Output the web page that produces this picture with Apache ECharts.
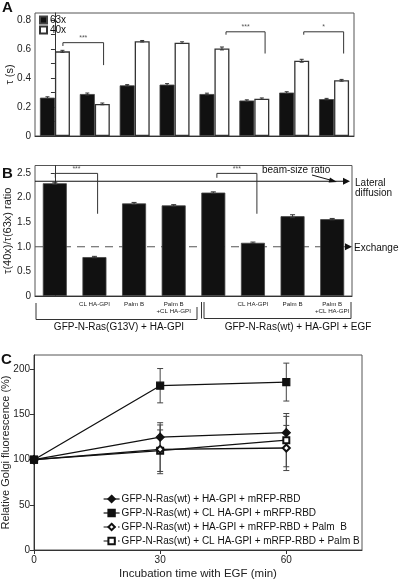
<!DOCTYPE html>
<html><head><meta charset="utf-8">
<script src="https://cdn.jsdelivr.net/npm/echarts@6/dist/echarts.min.js"></script>
<style>html,body{margin:0;padding:0;background:#fff}#c{width:400px;height:582px}</style>
</head><body><div id="c"></div>
<script>
// ---------- Panel A data ----------
const aCategories = ['1', '2', '3', '4', '5', '6', '7', '8'];
const a63x = [0.265, 0.29, 0.35, 0.355, 0.29, 0.245, 0.30, 0.255];
const a63xErr = [0.006, 0.007, 0.005, 0.007, 0.006, 0.005, 0.006, 0.005];
const a40x = [0.585, 0.222, 0.655, 0.645, 0.605, 0.258, 0.52, 0.385];
const a40xErr = [0.007, 0.006, 0.005, 0.006, 0.01, 0.005, 0.01, 0.006];
const aTickLabels = [0, 0.2, 0.4, 0.6, 0.8];
const aTickMarks = [0, 0.1, 0.2, 0.3, 0.4, 0.5, 0.6, 0.7, 0.8];
// brackets: [xStart, xEnd, yTop, yDropStart, yDropEnd]
const aBrackets = [[0.2, 1.22, 0.645, 0.622, 0.49], [4.29, 5.27, 0.72, 0.70, 0.57], [6.24, 7.24, 0.72, 0.70, 0.57]];
const aBracketStars = ['***', '***', '*'];

// ---------- Panel B data ----------
const bCategories = ['', 'CL HA-GPI', 'Palm B', 'Palm B\n+CL HA-GPI', '', 'CL HA-GPI', 'Palm B', 'Palm B\n+CL HA-GPI'];
const bRatio = [2.29, 0.79, 1.88, 1.84, 2.10, 1.08, 1.62, 1.56];
const bRatioErr = [0.02, 0.015, 0.02, 0.015, 0.015, 0.015, 0.03, 0.015];
const bTickLabels = [0, 0.5, 1.0, 1.5, 2.0, 2.5];
const bBeamSizeRatio = 2.33;
const bExchange = 1.0;
const bRefLabels = ['Lateral\ndiffusion', 'Exchange'];
const bBrackets = [[0.013, 1.08, 2.49, 2.40, 1.67], [4.09, 5.10, 2.49, 2.40, 1.67]];
const bBracketStars = ['***', '***'];
const bGroups = ['GFP-N-Ras(G13V) + HA-GPI', 'GFP-N-Ras(wt) + HA-GPI + EGF'];

// ---------- Panel C data ----------
const cTimes = [0, 30, 60];
const cTickLabels = [0, 30, 60];
const cYTicks = [0, 50, 100, 150, 200];
const cNames = [
  'GFP-N-Ras(wt) + HA-GPI + mRFP-RBD',
  'GFP-N-Ras(wt) + CL HA-GPI + mRFP-RBD',
  'GFP-N-Ras(wt) + HA-GPI + mRFP-RBD + Palm  B',
  'GFP-N-Ras(wt) + CL HA-GPI + mRFP-RBD + Palm B'
];
const cWtHa = [100, 125, 130];
const cWtHaErr = [0, 16, 18];
const cClHa = [100, 182, 186];
const cClHaErr = [0, 19, 21];
const cWtHaPalm = [100, 111.5, 113];
const cWtHaPalmErr = [0, 27, 25];
const cClHaPalm = [100, 110, 121.7];
const cClHaPalmErr = [0, 23, 29.5];

// ---------- chart ----------
const FONT = "'Liberation Sans', Arial, Helvetica, sans-serif";
const AX = '#333';
const chart = echarts.init(document.getElementById('c'), null, {renderer: 'canvas'});

const fmt1 = v => (v === 0 ? '0' : v.toFixed(1));

function yAxisDef(gridIndex, min, max, labels, ticks, formatter, name, nameGap, nameSize) {
  return {
    type: 'value', gridIndex, min, max,
    splitLine: {show: false},
    axisLine: {show: true, lineStyle: {color: AX, width: 1}},
    axisTick: {show: true, length: 4, lineStyle: {color: AX}, customValues: ticks},
    axisLabel: {customValues: labels, formatter, color: '#222', fontSize: 10, fontFamily: FONT, margin: 4},
    name, nameLocation: 'middle', nameGap, nameMoveOverlap: false,
    nameTextStyle: {color: '#222', fontSize: nameSize, fontFamily: FONT}
  };
}

function errorBarRender(offset, cap, color) {
  return function (params, api) {
    const x = api.value(0);
    const lo = api.coord([x, api.value(1)]);
    const hi = api.coord([x, api.value(2)]);
    const cx = lo[0] + offset;
    const st = {stroke: color, lineWidth: 1};
    return {type: 'group', children: [
      {type: 'line', shape: {x1: cx, y1: lo[1], x2: cx, y2: hi[1]}, style: st},
      {type: 'line', shape: {x1: cx - cap, y1: hi[1], x2: cx + cap, y2: hi[1]}, style: st},
      {type: 'line', shape: {x1: cx - cap, y1: lo[1], x2: cx + cap, y2: lo[1]}, style: st}
    ]};
  };
}

function bracketRender(stars) {
  return function (params, api) {
    const x1 = api.value(0), x2 = api.value(1), yt = api.value(2), y1 = api.value(3), y2 = api.value(4);
    const p1 = api.coord([x1, y1]), p2 = api.coord([x1, yt]), p3 = api.coord([x2, yt]), p4 = api.coord([x2, y2]);
    return {type: 'group', children: [
      {type: 'polyline', shape: {points: [p1, p2, p3, p4]}, style: {stroke: '#333', fill: null, lineWidth: 1}},
      {type: 'text', style: {text: stars[params.dataIndex], x: (p2[0] + p3[0]) / 2, y: p2[1] - 1,
        align: 'center', verticalAlign: 'bottom', fill: '#555', font: '7px ' + FONT}}
    ]};
  };
}

function refLineRender(params, api) {
  const x1 = api.value(0), x2 = api.value(1), y = api.value(2);
  const a = api.coord([x1, y]), b = api.coord([x2, y]);
  const dashed = params.dataIndex === 1;
  const head = 7;
  return {type: 'group', children: [
    {type: 'line', shape: {x1: a[0], y1: a[1], x2: b[0] - head + 1, y2: b[1]},
      style: {stroke: dashed ? '#555' : '#111', lineWidth: 1.2, lineDash: dashed ? [8, 6] : null}},
    {type: 'polygon', shape: {points: [[b[0], b[1]], [b[0] - head, b[1] - 3.5], [b[0] - head, b[1] + 3.5]]},
      style: {fill: '#111'}},
    {type: 'text', style: {text: bRefLabels[params.dataIndex], x: b[0] + (dashed ? 2 : 5), y: b[1] + (dashed ? 1 : 7),
      align: 'left', verticalAlign: 'middle', fill: '#111', font: '10px ' + FONT, lineHeight: 10.5}}
  ]};
}

const series = [];
// Panel A bars
series.push({type: 'bar', name: '63x', xAxisIndex: 0, yAxisIndex: 0, data: a63x, barWidth: 15, barGap: '0%',
  itemStyle: {color: '#111', borderColor: '#444', borderWidth: 0.8}, z: 2});
series.push({type: 'bar', name: '40x', xAxisIndex: 0, yAxisIndex: 0, data: a40x, barWidth: 15, barGap: '0%',
  itemStyle: {color: '#fff', borderColor: '#333', borderWidth: 1.3}, z: 2});
series.push({type: 'custom', xAxisIndex: 0, yAxisIndex: 0, z: 3, encode: {x: 0, y: [1, 2]},
  data: a63x.map((v, i) => [i, v - a63xErr[i], v + a63xErr[i]]), renderItem: errorBarRender(-7.5, 2, '#333')});
series.push({type: 'custom', xAxisIndex: 0, yAxisIndex: 0, z: 3, encode: {x: 0, y: [1, 2]},
  data: a40x.map((v, i) => [i, v - a40xErr[i], v + a40xErr[i]]), renderItem: errorBarRender(7.5, 2, '#333')});
series.push({type: 'custom', xAxisIndex: 1, yAxisIndex: 0, z: 3, encode: {x: [0, 1], y: [2, 3, 4]},
  data: aBrackets, renderItem: bracketRender(aBracketStars)});

// Panel B
series.push({type: 'custom', xAxisIndex: 3, yAxisIndex: 1, z: 1, encode: {x: [0, 1], y: 2},
  data: [[-0.5, 7.45, bBeamSizeRatio], [-0.5, 7.5, bExchange]], renderItem: refLineRender});
series.push({type: 'bar', name: 'ratio', xAxisIndex: 2, yAxisIndex: 1, data: bRatio, barWidth: 24,
  itemStyle: {color: '#111', borderColor: '#444', borderWidth: 0.8}, z: 2});
series.push({type: 'custom', xAxisIndex: 2, yAxisIndex: 1, z: 3, encode: {x: 0, y: [1, 2]},
  data: bRatio.map((v, i) => [i, v - bRatioErr[i], v + bRatioErr[i]]), renderItem: errorBarRender(0, 2.5, '#333')});
series.push({type: 'custom', xAxisIndex: 3, yAxisIndex: 1, z: 3, encode: {x: [0, 1], y: [2, 3, 4]},
  data: bBrackets, renderItem: bracketRender(bBracketStars)});

// Panel C
const cSets = [
  {data: cWtHa, err: cWtHaErr, symbol: 'diamond', size: 8, dashed: false},
  {data: cClHa, err: cClHaErr, symbol: 'rect', size: 7, dashed: false},
  {data: cWtHaPalm, err: cWtHaPalmErr, symbol: 'emptyDiamond', size: 7, dashed: true},
  {data: cClHaPalm, err: cClHaPalmErr, symbol: 'emptyRect', size: 6, dashed: true}
];
cSets.forEach((s, k) => {
  series.push({type: 'custom', xAxisIndex: 4, yAxisIndex: 2, z: 2, encode: {x: 0, y: [1, 2]},
    data: s.data.map((v, i) => [cTimes[i], v - s.err[i], v + s.err[i]]).filter((d, i) => s.err[i] > 0),
    renderItem: errorBarRender(0, 3, '#444')});
});
cSets.forEach((s, k) => {
  series.push({type: 'line', name: cNames[k], xAxisIndex: 4, yAxisIndex: 2, z: 5 - k,
    data: s.data.map((v, i) => [cTimes[i], v]), symbol: s.symbol, symbolSize: s.size,
    lineStyle: {color: '#111', width: 1.3}, itemStyle: {color: '#111', borderColor: '#111', borderWidth: 1.2}});
});

const gridBase = {show: true, borderColor: '#555', borderWidth: 1, containLabel: false, outerBoundsMode: 'none'};
const option = {
  backgroundColor: '#fff',
  animation: false,
  textStyle: {fontFamily: FONT},
  grid: [
    Object.assign({left: 35, top: 13, width: 319, height: 123}, gridBase),
    Object.assign({left: 35, top: 165.5, width: 317, height: 130.5}, gridBase),
    Object.assign({left: 34, top: 355, width: 328, height: 195}, gridBase)
  ],
  xAxis: [
    {type: 'category', gridIndex: 0, data: aCategories, axisLine: {lineStyle: {color: AX}},
      axisTick: {show: false}, axisLabel: {show: false}},
    {type: 'value', gridIndex: 0, min: -0.5, max: 7.5, show: false},
    {type: 'category', gridIndex: 1, data: bCategories, axisLine: {lineStyle: {color: AX}},
      axisTick: {show: false},
      axisLabel: {interval: 0, color: '#222', fontSize: 6.2, fontFamily: FONT, lineHeight: 7, margin: 5}},
    {type: 'value', gridIndex: 1, min: -0.5, max: 7.5, show: false},
    {type: 'value', gridIndex: 2, min: 0, max: 78, splitLine: {show: false},
      axisLine: {lineStyle: {color: AX}},
      axisTick: {length: 4, lineStyle: {color: AX}, customValues: cTickLabels},
      axisLabel: {customValues: cTickLabels, color: '#222', fontSize: 10, fontFamily: FONT, margin: 5},
      name: 'Incubation time with EGF (min)', nameLocation: 'middle', nameGap: 18, nameMoveOverlap: false,
      nameTextStyle: {color: '#222', fontSize: 11.5, fontFamily: FONT}}
  ],
  yAxis: [
    yAxisDef(0, 0, 0.85, aTickLabels, aTickMarks, fmt1, 'τ (s)', 20, 11),
    yAxisDef(1, 0, 2.65, bTickLabels, bTickLabels, fmt1, 'τ(40x)/τ(63x) ratio', 22, 11),
    yAxisDef(2, 0, 216, cYTicks, cYTicks, v => String(v), 'Relative Golgi fluorescence (%)', 23, 11)
  ],
  legend: [
    {data: ['63x', '40x'], left: 39, top: 15, orient: 'vertical', itemWidth: 7, itemHeight: 7, itemGap: 0,
      padding: 0, icon: 'rect', selectedMode: false,
      textStyle: {fontSize: 10, fontFamily: FONT, color: '#111', padding: [0, 0, 0, -2], lineHeight: 10}},
    {data: cNames.map((n, k) => ({name: n, lineStyle: {type: cSets[k].dashed ? 'dashed' : 'solid', width: 1.2}})),
      left: 103, top: 493, orient: 'vertical', itemWidth: 16, itemHeight: 8, itemGap: 2, padding: 0,
      selectedMode: false,
      textStyle: {fontSize: 10, fontFamily: FONT, color: '#111', padding: [0, 0, 0, -3], lineHeight: 12}}
  ],
  graphic: [
    {type: 'text', left: 2, top: 0, style: {text: 'A', font: 'bold 15px ' + FONT, fill: '#111'}},
    {type: 'text', left: 2, top: 166, style: {text: 'B', font: 'bold 15px ' + FONT, fill: '#111'}},
    {type: 'text', left: 1, top: 352, style: {text: 'C', font: 'bold 15px ' + FONT, fill: '#111'}},
    {type: 'text', left: 262, top: 165, style: {text: 'beam-size ratio', font: '10px ' + FONT, fill: '#111'}},
    {type: 'line', shape: {x1: 312, y1: 175, x2: 333, y2: 180.8}, style: {stroke: '#111', lineWidth: 1}},
    {type: 'polygon', shape: {points: [[337, 182], [330, 177.6], [328.6, 182.4]]}, style: {fill: '#111'}},
    {type: 'polyline', shape: {points: [[36, 303], [36, 319.5], [197, 319.5], [197, 307]]}, style: {stroke: '#333', fill: null, lineWidth: 1}},
    {type: 'polyline', shape: {points: [[201.5, 302], [201.5, 318.5]]}, style: {stroke: '#333', fill: null, lineWidth: 1}},
    {type: 'polyline', shape: {points: [[204, 302], [204, 318.5], [351, 318.5], [351, 302]]}, style: {stroke: '#333', fill: null, lineWidth: 1}},
    {type: 'text', x: 119, y: 327, style: {text: bGroups[0], font: '10px ' + FONT, fill: '#111', align: 'center', verticalAlign: 'middle'}},
    {type: 'text', x: 298, y: 327, style: {text: bGroups[1], font: '10px ' + FONT, fill: '#111', align: 'center', verticalAlign: 'middle'}}
  ],
  series
};
chart.setOption(option);
</script></body></html>
